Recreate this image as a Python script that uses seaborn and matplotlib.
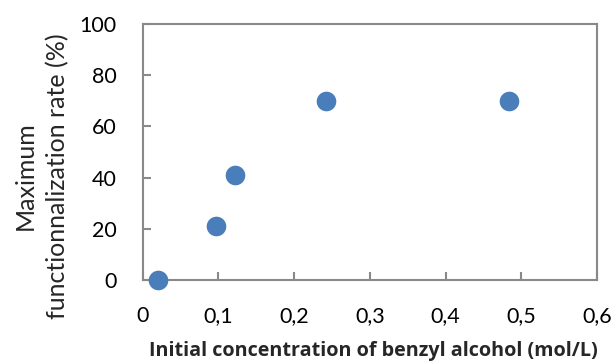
import matplotlib
matplotlib.use("Agg")
import matplotlib.pyplot as plt
import seaborn as sns
import pandas as pd
from matplotlib.ticker import FuncFormatter

concentration = [0.02, 0.097, 0.122, 0.242, 0.483]
rate = [0, 21, 41, 70, 70]
x_ticks = [0, 0.1, 0.2, 0.3, 0.4, 0.5, 0.6]
y_ticks = [0, 20, 40, 60, 80, 100]

sns.set_theme(style="white")
plt.rcParams['font.family'] = ['Lato', 'DejaVu Sans']

df = pd.DataFrame({"x": concentration, "y": rate})
fig = plt.figure(figsize=(6.16, 3.63), dpi=100)
ax = fig.add_axes([0.2317, 0.2287, 0.7378, 0.7052])
sns.scatterplot(data=df, x="x", y="y", ax=ax, s=200, color="#4a7ebb",
                edgecolor="#4a7ebb", linewidth=0, clip_on=False, zorder=3)
ax.set_xlim(0, 0.6)
ax.set_ylim(0, 100)
ax.set_xticks(x_ticks)
ax.set_yticks(y_ticks)
ax.xaxis.set_major_formatter(FuncFormatter(lambda v, p: ("%g" % round(v, 2)).replace(".", ",")))
for s in ax.spines.values():
    s.set_color("#898989")
    s.set_linewidth(1.5)
ax.tick_params(direction="in", length=6, width=1.5, color="#898989",
               labelsize=15.5, labelcolor="black", pad=19, bottom=True, left=True)
ax.set_xlabel("Initial concentration of benzyl alcohol (mol/L)", fontsize=14.2,
              fontweight="bold", family=["Open Sans", "DejaVu Sans"])
ax.xaxis.label.set_va("baseline")
ax.xaxis.set_label_coords(0.507, -0.296)
ax.set_ylabel("Maximum\nfunctionnalization rate (%)", fontsize=18,
              linespacing=1.5)
ax.yaxis.label.set_va("center")
ax.yaxis.set_label_coords(-0.223, 0.406)
fig.savefig("out.png", dpi=100)
